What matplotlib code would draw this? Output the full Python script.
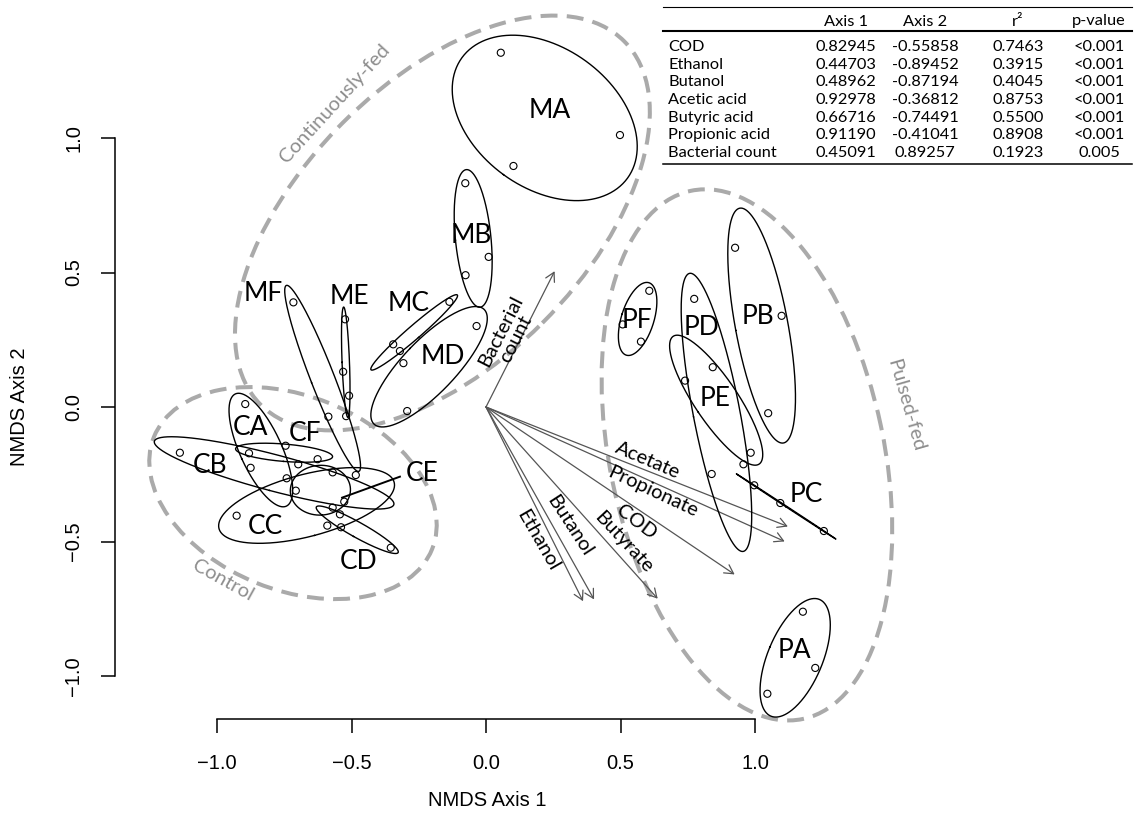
import numpy as np
import matplotlib
matplotlib.use("Agg")
import matplotlib.pyplot as plt
from matplotlib.lines import Line2D
from matplotlib.patches import Ellipse

# ---------------- NMDS site scores (Axis 1, Axis 2) per group ----------------
MA = [(0.055, 1.317), (0.498, 1.011), (0.102, 0.896)]
MB = [(-0.077, 0.832), (0.010, 0.558), (-0.076, 0.490)]
MC = [(-0.345, 0.233), (-0.320, 0.208), (-0.136, 0.391)]
MD = [(-0.307, 0.163), (-0.293, -0.015), (-0.035, 0.301)]
ME = [(-0.524, 0.326), (-0.531, 0.131), (-0.509, 0.042)]
MF = [(-0.716, 0.389), (-0.586, -0.036), (-0.520, -0.034)]
CA = [(-0.895, 0.011), (-0.875, -0.226), (-0.741, -0.265)]
CB = [(-1.138, -0.170), (-0.698, -0.213), (-0.527, -0.352)]
CC = [(-0.927, -0.404), (-0.484, -0.253), (-0.590, -0.441)]
CD = [(-0.354, -0.523), (-0.543, -0.399), (-0.539, -0.447)]
CE = [(-0.570, -0.243), (-0.707, -0.311), (-0.570, -0.374)]
CF = [(-0.881, -0.172), (-0.745, -0.144), (-0.626, -0.194)]
PA = [(1.178, -0.761), (1.224, -0.970), (1.046, -1.066)]
PB = [(0.926, 0.592), (1.099, 0.339), (1.049, -0.023)]
PC = [(0.997, -0.291), (1.094, -0.357), (1.256, -0.461)]
PD = [(0.774, 0.402), (0.839, -0.249), (0.957, -0.213)]
PE = [(0.740, 0.098), (0.843, 0.148), (0.984, -0.170)]
PF = [(0.607, 0.432), (0.508, 0.307), (0.576, 0.243)]

group_names = ["MA", "MB", "MC", "MD", "ME", "MF",
               "CA", "CB", "CC", "CD", "CE", "CF",
               "PA", "PB", "PC", "PD", "PE", "PF"]
group_scores = [MA, MB, MC, MD, ME, MF, CA, CB, CC, CD, CE, CF,
                PA, PB, PC, PD, PE, PF]

# ---------------- envfit vectors ----------------
vectors = ["COD", "Ethanol", "Butanol", "Acetic acid", "Butyric acid",
           "Propionic acid", "Bacterial count"]
axis1 = [0.82945, 0.44703, 0.48962, 0.92978, 0.66716, 0.91190, 0.45091]
axis2 = [-0.55858, -0.89452, -0.87194, -0.36812, -0.74491, -0.41041, 0.89257]
r2 = [0.7463, 0.3915, 0.4045, 0.8753, 0.5500, 0.8908, 0.1923]
pvalues = ["<0.001", "<0.001", "<0.001", "<0.001", "<0.001", "<0.001", "0.005"]
arrow_names = ["COD", "Ethanol", "Butanol", "Acetate", "Butyrate",
               "Propionate", "Bacterial\ncount"]
arrow_mul = 1.29

# ---------------- layout ----------------
W, H = 1145, 827
PX, X0, Y0 = 269.0, 486.0, 407.0          # pixels per unit, origin in pixels
AX_L, AX_R, AX_T, AX_B = 115, 1130, 5, 719

ANNOT_FONT = "Lato"
AXIS_FONT = "Liberation Sans"
HULL_COL = "#aaaaaa"
HULL_TXT = "#8e8e8e"


def fx(px):
    return px / W


def fy(py):
    return 1 - py / H


fig = plt.figure(figsize=(W / 100, H / 100), dpi=100)
ax = fig.add_axes([fx(AX_L), fy(AX_B), (AX_R - AX_L) / W, (AX_B - AX_T) / H])
ax.set_xlim((AX_L - X0) / PX, (AX_R - X0) / PX)
ax.set_ylim((Y0 - AX_B) / PX, (Y0 - AX_T) / PX)
ax.patch.set_alpha(0)

for s in ("top", "right"):
    ax.spines[s].set_visible(False)
for s in ("left", "bottom"):
    ax.spines[s].set_bounds(-1, 1)
    ax.spines[s].set_linewidth(1.1)

ticks = [-1.0, -0.5, 0.0, 0.5, 1.0]
ax.set_xticks(ticks)
ax.set_yticks(ticks)
ax.tick_params(direction="out", length=10, width=1.1, labelsize=14.5)
ax.tick_params(axis="x", pad=15)
ax.tick_params(axis="y", pad=13, labelrotation=90)
for lab in ax.get_xticklabels() + ax.get_yticklabels():
    lab.set_fontfamily(AXIS_FONT)
for lab in ax.get_yticklabels():
    lab.set_verticalalignment("center")

fig.text(fx(487), fy(800), "NMDS Axis 1", ha="center", va="center",
         fontsize=14.5, family=AXIS_FONT)
fig.text(fx(20), fy(407), "NMDS Axis 2", ha="center", va="center",
         rotation=90, fontsize=14.5, family=AXIS_FONT)

# ---------------- treatment hulls (dashed grey) ----------------
hulls = [
    # centre, width, height, angle
    ((-0.162, 0.684), 1.911, 1.051, 45),     # continuously-fed
    ((0.970, -0.178), 2.007, 1.019, 102),    # pulsed-fed
    ((-0.7175, -0.320), 1.115, 0.721, -22),  # control
]
for c, w, h, a in hulls:
    ax.add_patch(Ellipse(c, w, h, angle=a, fill=False, edgecolor=HULL_COL,
                         lw=2.9, linestyle=(0, (4.2, 2.3)), zorder=1,
                         clip_on=False))

hull_labels = [
    ("Continuously-fed", (-0.561, 1.129), 47.5),
    ("Control", (-0.977, -0.645), -29),
    ("Pulsed-fed", (1.56, 0.005), -74),
]
for txt, (x, y), rot in hull_labels:
    ax.text(x, y, txt, rotation=rot, rotation_mode="anchor", ha="center",
            va="center", fontsize=14.5, color=HULL_TXT, family=ANNOT_FONT)

# ---------------- standard-error ellipses (95%) per group ----------------
SE_SCALE = np.sqrt(-2 * np.log(0.05))   # sqrt of chi-square(2 df) 95% quantile
theta = np.linspace(0, 2 * np.pi, 361)
circle = np.vstack([np.cos(theta), np.sin(theta)])

for pts in group_scores:
    pts = np.asarray(pts, float)
    centre = pts.mean(axis=0)
    cov = np.cov(pts.T) / len(pts)
    vals, vecs = np.linalg.eigh(cov)
    vals = np.clip(vals, 0, None)
    ell = vecs @ (np.sqrt(vals)[:, None] * circle) * SE_SCALE
    ax.plot(centre[0] + ell[0], centre[1] + ell[1], color="black", lw=1.0,
            zorder=3, clip_on=False)
    ax.scatter(pts[:, 0], pts[:, 1], s=26, facecolors="none",
               edgecolors="black", linewidths=0.8, zorder=4, clip_on=False)

group_label_pos = {
    "MA": (0.238, 1.104), "MB": (-0.053, 0.639), "MC": (-0.289, 0.386),
    "MD": (-0.159, 0.187), "ME": (-0.509, 0.410), "MF": (-0.828, 0.423),
    "CA": (-0.877, -0.075), "CB": (-1.026, -0.216), "CC": (-0.822, -0.445),
    "CD": (-0.475, -0.575), "CE": (-0.239, -0.246), "CF": (-0.673, -0.098),
    "PA": (1.146, -0.906), "PB": (1.012, 0.336), "PC": (1.190, -0.327),
    "PD": (0.802, 0.296), "PE": (0.851, 0.032), "PF": (0.560, 0.323),
}
for name in group_names:
    x, y = group_label_pos[name]
    ax.text(x, y, name, ha="center", va="center", fontsize=19,
            family=ANNOT_FONT, zorder=5)

# leader from the CE label
ax.plot([-0.535, -0.320], [-0.337, -0.259], color="black", lw=1.4, zorder=5)

# ---------------- fitted environmental vectors ----------------
ARROW_COL = "#555555"
for a1, a2, rr in zip(axis1, axis2, r2):
    tip = (a1 * np.sqrt(rr) * arrow_mul, a2 * np.sqrt(rr) * arrow_mul)
    ax.annotate("", xy=tip, xytext=(0, 0),
                arrowprops=dict(arrowstyle="->,head_length=0.45,head_width=0.25",
                                color=ARROW_COL, lw=0.9, shrinkA=0, shrinkB=0,
                                mutation_scale=14), zorder=2)

arrow_label_pos = {
    "COD": ((0.560, -0.429), -37),
    "Ethanol": ((0.194, -0.497), -60),
    "Butanol": ((0.309, -0.441), -57),
    "Acetate": ((0.600, -0.197), -23),
    "Butyrate": ((0.510, -0.503), -47),
    "Propionate": ((0.619, -0.317), -25),
    "Bacterial\ncount": ((0.082, 0.268), 63),
}
for name in arrow_names:
    (x, y), rot = arrow_label_pos[name]
    ax.text(x, y, name, rotation=rot, rotation_mode="anchor", ha="center",
            va="center", multialignment="center", fontsize=14.5,
            family=ANNOT_FONT, zorder=5, linespacing=1.0)

# ---------------- envfit table ----------------
T_LEFT, T_RIGHT = 663, 1132
col_x = [846, 925, 1018, 1099]
header_y = 21.5
row_y0, row_dy = 47.3, 17.6
TFS = 11.8

fig.add_artist(Line2D([fx(T_LEFT), fx(T_RIGHT)], [fy(7.3)] * 2, color="black", lw=0.8))
fig.add_artist(Line2D([fx(T_LEFT), fx(T_RIGHT)], [fy(31)] * 2, color="black", lw=1.5))
fig.add_artist(Line2D([fx(T_LEFT), fx(T_RIGHT)], [fy(163.5)] * 2, color="black", lw=1.1))

for cx, head in zip(col_x, ["Axis 1", "Axis 2", "r\u00b2", "p-value"]):
    fig.text(fx(cx), fy(header_y), head, ha="center", va="center",
             fontsize=TFS, family=ANNOT_FONT)

for i, name in enumerate(vectors):
    y = fy(row_y0 + i * row_dy)
    fig.text(fx(668), y, name, ha="left", va="center", fontsize=TFS,
             family=ANNOT_FONT)
    cells = [f"{axis1[i]:.5f}", f"{axis2[i]:.5f}", f"{r2[i]:.4f}", pvalues[i]]
    for cx, cell in zip(col_x, cells):
        fig.text(fx(cx), y, cell, ha="center", va="center", fontsize=TFS,
                 family=ANNOT_FONT)

fig.savefig("out.png", dpi=100)
